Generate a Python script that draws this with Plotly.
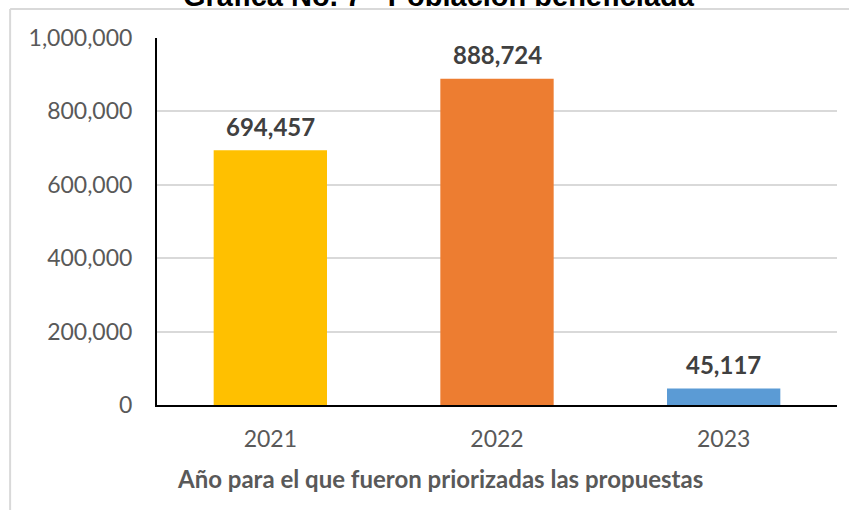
import plotly.graph_objects as go

years = ["2021", "2022", "2023"]
poblacion = [694457, 888724, 45117]
colors = ["#FFC000", "#ED7D31", "#5B9BD5"]
tick_vals = [0, 200000, 400000, 600000, 800000, 1000000]
tick_text = ["0", "200,000", "400,000", "600,000", "800,000", "1,000,000"]

font_main = "Lato, Open Sans, sans-serif"

fig = go.Figure(go.Bar(
    x=years,
    y=poblacion,
    marker_color=colors,
    marker_line_width=0,
))

# value labels above each bar (category axis -> annotations use the category index)
for i, val in enumerate(poblacion):
    fig.add_annotation(
        x=i, y=val, text=f"<b>{val:,}</b>", showarrow=False,
        yanchor="middle", yshift=24,
        font=dict(family=font_main, size=24, color="#404040"),
    )

# chart title (cut at the top of the image in the original)
fig.add_annotation(
    x=0.415, xref="paper", y=1.065, yref="paper", yanchor="bottom",
    text="<b>Gráfica No. 7 - Población beneficiada</b>",
    showarrow=False, font=dict(family="Arial", size=29, color="black"),
)
# x axis title, sits left of the plot centre
fig.add_annotation(
    xref="paper", yref="paper", x=0.416, y=-0.2,
    yanchor="middle", xanchor="center",
    text="<b>Año para el que fueron priorizadas las propuestas</b>",
    showarrow=False, font=dict(family=font_main, size=24, color="#595959"),
)

fig.update_layout(
    width=849, height=510,
    margin=dict(l=157, r=12, t=38, b=105, autoexpand=False),
    paper_bgcolor="white", plot_bgcolor="white",
    bargap=0.5, showlegend=False,
    font=dict(family=font_main, color="#595959"),
    shapes=[
        dict(type="line", xref="paper", yref="paper",
             x0=-0.216, x1=1.1, y0=1.079, y1=1.079,
             line=dict(color="#d9d9d9", width=2)),
        dict(type="line", xref="paper", yref="paper",
             x0=-0.216, x1=-0.216, y0=1.079, y1=-0.3,
             line=dict(color="#d9d9d9", width=2)),
    ],
)
fig.update_yaxes(
    range=[0, 1000000], tickvals=tick_vals, ticktext=tick_text,
    showgrid=True, gridcolor="#d9d9d9", gridwidth=2,
    showline=True, linecolor="black", linewidth=2,
    tickfont=dict(size=23, color="#595959"),
    ticks="outside", ticklen=18, tickcolor="rgba(0,0,0,0)",
    zeroline=False,
)
fig.update_xaxes(
    type="category", range=[-0.5, 2.5],
    showline=True, linecolor="black", linewidth=2,
    tickfont=dict(size=23, color="#595959"),
    ticks="outside", ticklen=12, tickcolor="rgba(0,0,0,0)",
)

# the page body has a default 8px margin; drop it so the figure sits at 0,0
fig.write_html("out.html", config={"displayModeBar": False},
               post_script="document.body.style.margin='0';")
